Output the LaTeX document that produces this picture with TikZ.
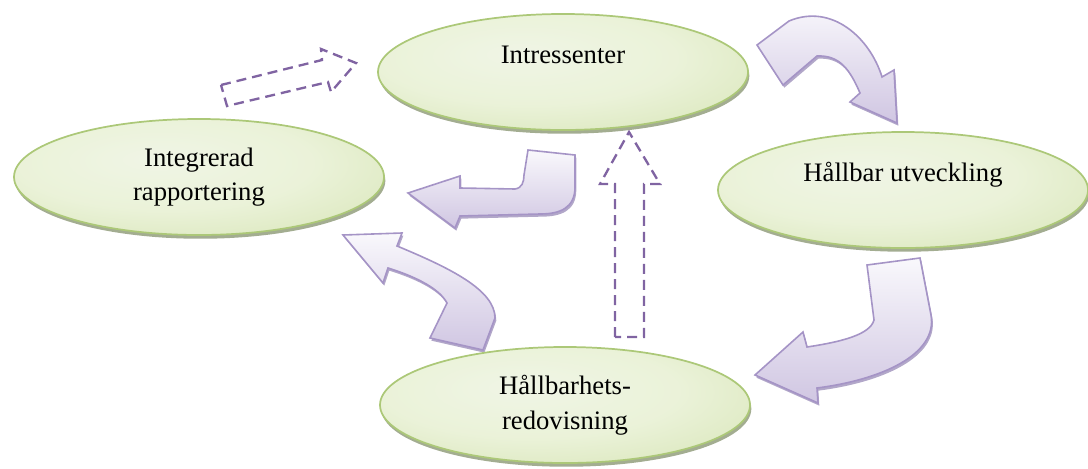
\documentclass[tikz,border=0pt]{standalone}
\usepackage{fontspec}
\setmainfont{Liberation Serif}
\usetikzlibrary{shapes.geometric, shadows, positioning}

\definecolor{ovalline}{RGB}{172,200,120}
\definecolor{ovalshadow}{RGB}{140,152,118}
\definecolor{arrowline}{RGB}{165,148,198}
\definecolor{arrowtop}{RGB}{249,248,252}
\definecolor{arrowbottom}{RGB}{208,198,226}
\definecolor{arrowshadow}{RGB}{145,130,178}
\definecolor{dashpurple}{RGB}{128,100,162}

\pgfdeclareradialshading{ovalshade}{\pgfpoint{-6bp}{8bp}}{rgb(0bp)=(0.94,0.96,0.90); rgb(20bp)=(0.92,0.95,0.85); rgb(55bp)=(0.79,0.86,0.62); rgb(80bp)=(0.79,0.86,0.62)}

\tikzset{
  oval/.style={ellipse, draw=ovalline, line width=1.3pt, shade, shading=ovalshade,
    minimum width=277.5pt, minimum height=87pt, inner sep=0pt,
    font=\fontsize{20}{26}\selectfont,
    drop shadow={shadow xshift=1pt, shadow yshift=-2.8pt, fill=ovalshadow, opacity=0.8}},
  oneline/.style={text height=14pt, text depth=27.5pt},
  bendarrow/.style={draw=arrowline, line width=1.2pt, top color=arrowtop, bottom color=arrowbottom,
    drop shadow={shadow xshift=1pt, shadow yshift=-2pt, fill=arrowshadow, opacity=0.7}},
  dasharrow/.style={draw=dashpurple, line width=1.75pt, dash pattern=on 7.5pt off 4.5pt}
}

\begin{document}
\begin{tikzpicture}[x=0.75pt, y=-0.75pt]

\useasboundingbox (0,0) rectangle (1088,468);

% Curved block arrows
\draw[bendarrow] (757,45) -- (789,21) .. controls (832,3) and (870,38) .. (882,77)
  -- (894,70) -- (897,123) -- (850,102) -- (860,93)
  .. controls (850,70) and (840,55) .. (817,56) -- (783,85) -- cycle;
\draw[bendarrow] (528,150) -- (575,155) -- (575,187) .. controls (575,208) and (560,214) .. (540,214)
  -- (460,216) -- (455,228) -- (408,193) -- (460,176) -- (460,188) -- (515,189)
  .. controls (522,188) and (524,182) .. (524,175) -- cycle;
\draw[bendarrow] (867,265) -- (920,258) -- (931,315) .. controls (938,355) and (880,380) .. (817,388)
  -- (818,403) -- (755,375) -- (803,332) -- (807,347)
  .. controls (840,342) and (870,335) .. (874,320) -- cycle;
\draw[bendarrow] (343,235) -- (402,233) -- (397,246) .. controls (450,268) and (495,290) .. (495,318)
  -- (483,350) -- (430,338) -- (447,303)
  .. controls (440,290) and (420,278) .. (388,268) -- (383,283) -- cycle;

% Dashed block arrows
\draw[dasharrow] (221,85) -- (322,60) -- (321,49) -- (356,63) -- (331,92) -- (328,82) -- (227,106) -- cycle;
\draw[dasharrow] (615,337) -- (615,184) -- (600,184) -- (629,132) -- (660,184) -- (644,184) -- (644,337) -- cycle;

% Ellipses
\node[oval, oneline] (intressenter) at (563,72) {Intressenter};
\node[oval, align=center] (integrerad) at (199,177) {Integrerad\\rapportering};
\node[oval, oneline] (utveckling) at (903,190) {Hållbar utveckling};
\node[oval, align=center] (redovisning) at (565,405) {Hållbarhets-\\redovisning};

\end{tikzpicture}
\end{document}
